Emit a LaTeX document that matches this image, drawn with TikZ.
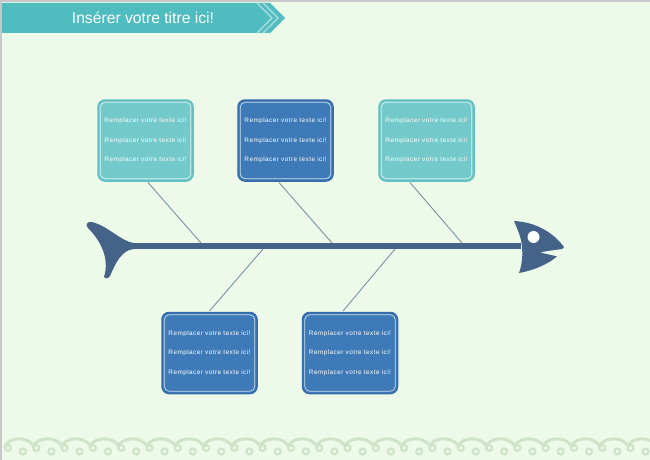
\documentclass[tikz,border=0pt]{standalone}
\usepackage{fontspec}
\setmainfont{Liberation Sans}
\newfontfamily\boxfont[LetterSpace=7]{Liberation Sans}
\definecolor{bgc}{HTML}{EEFAE9}
\definecolor{fishc}{HTML}{456388}
\definecolor{tealf}{HTML}{74C9CA}
\definecolor{teald}{HTML}{5FBFC2}
\definecolor{bluef}{HTML}{3E7AB7}
\definecolor{blued}{HTML}{356BA8}
\definecolor{bonec}{HTML}{7D8FA3}
\definecolor{bannerc}{HTML}{4FBCBF}
\definecolor{chainc}{HTML}{CFE3C9}
\definecolor{framec}{HTML}{C8C8C8}
\tikzset{
  cbox/.style={rounded corners=7pt, minimum width=95pt, minimum height=81pt, line width=1.5pt,
    text=white, align=center, font=\boxfont\fontsize{6.4}{19.5}\selectfont, inner sep=0pt},
  tealbox/.style={cbox, fill=tealf, draw=teald},
  bluebox/.style={cbox, fill=bluef, draw=blued},
  bone/.style={draw=bonec, line width=0.9pt},
  inner/.style={draw=white, line width=0.7pt, opacity=0.75, rounded corners=5pt},
}
\newcommand{\txt}{Remplacer votre texte ici!\\Remplacer votre texte ici!\\Remplacer votre texte ici!}
\begin{document}
\begin{tikzpicture}[x=1pt,y=-1pt]
\useasboundingbox (0,0) rectangle (650,460);
\fill[bgc] (0,0) rectangle (650,460);
% frame
\draw[framec, line width=2pt] (0,1) -- (650,1);
\draw[framec, line width=2pt] (1,0) -- (1,460);
% chain border
\foreach \k in {0,...,23} {
  \pgfmathsetmacro{\xo}{3+28.3*\k}
  \draw[chainc, line width=3pt] (\xo+2,447) .. controls (\xo+5,437) and (\xo+24,436) .. (\xo+30,445);
  \draw[chainc, line width=2.2pt] (\xo+5,448) circle (3);
  \draw[chainc, line width=2.2pt] (\xo+20,451.5) circle (3);
}
% banner
\fill[bannerc] (2,3) -- (270,3) -- (285,18) -- (270,33) -- (2,33) -- cycle;
\draw[white, opacity=0.45, line width=1.6pt] (257,3) -- (272,18) -- (257,33);
\draw[white, opacity=0.45, line width=1.6pt] (263,3) -- (278,18) -- (263,33);
\node[text=white, font=\fontsize{15.7}{18}\selectfont] (title) at (143,18) {Insérer votre titre ici!};
% fish
\coordinate (sp0) at (130,246);
\coordinate (sp1) at (521,246);
\draw[fishc, line width=6.5pt] (sp0) -- (sp1);
\fill[fishc] (134,243) .. controls (122,242) and (108,226) .. (92,222)
  .. controls (87,221) and (85,225) .. (88,228)
  .. controls (100,240) and (110,258) .. (104,277)
  .. controls (105,279) and (108,279) .. (110,276)
  .. controls (116,262) and (122,250) .. (134,249) -- cycle;
\fill[fishc] (514,221) .. controls (535,222) and (553,232) .. (564,247)
  -- (562,249) .. controls (555,250) and (546,251) .. (540,252.5)
  .. controls (546,254) and (552,255) .. (557,256.5)
  .. controls (548,264) and (535,270) .. (519,273)
  .. controls (523,262) and (523,250) .. (521,240)
  .. controls (519,232) and (516,226) .. (514,221) -- cycle;
\fill[white] (533.5,237) circle (6);
% boxes
\node[tealbox] (t1) at (145.5,140.5) {\txt};
\node[bluebox] (t2) at (285.5,140.5) {\txt};
\node[tealbox] (t3) at (426.5,140.5) {\txt};
\node[bluebox] (b1) at (209.5,353) {\txt};
\node[bluebox] (b2) at (350,353) {\txt};
\foreach \n in {t1,t2,t3,b1,b2} {
  \draw[inner] ([shift={(3,3)}]\n.north west) rectangle ([shift={(-3,-3)}]\n.south east);
}
% bones
\coordinate (j1) at (201,243);
\coordinate (j2) at (332,243);
\coordinate (j3) at (462,243);
\coordinate (j4) at (263,249);
\coordinate (j5) at (395,249);
\draw[bone] ([xshift=2.5pt,yshift=-0.75pt]t1.south) -- (j1);
\draw[bone] ([xshift=-6.5pt,yshift=-0.75pt]t2.south) -- (j2);
\draw[bone] ([xshift=-16.5pt,yshift=-0.75pt]t3.south) -- (j3);
\draw[bone] ([yshift=0.75pt]b1.north) -- (j4);
\draw[bone] ([xshift=-7pt,yshift=0.75pt]b2.north) -- (j5);
\end{tikzpicture}
\end{document}
